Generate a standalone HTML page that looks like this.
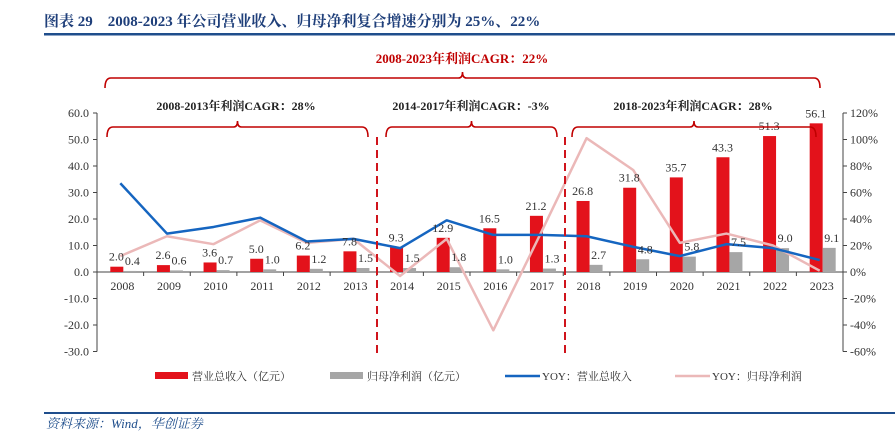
<!DOCTYPE html>
<html><head><meta charset="utf-8">
<style>
body{margin:0;background:#fff;width:895px;height:431px;overflow:hidden}
svg{display:block;font-family:"Liberation Serif","Noto Serif CJK SC",serif}
</style></head>
<body>
<svg id="chart" width="895" height="431">
<text x="44" y="26" font-size="15" font-weight="bold" fill="#1f3f7a">图表 29　2008-2023 年公司营业收入、归母净利复合增速分别为 25%、22%</text>
<rect x="44" y="33" width="851" height="2.5" fill="#1f4e8c"/>
<rect x="44" y="412" width="851" height="2" fill="#1f4e8c"/>
<text x="46" y="428" font-size="13" font-style="italic" fill="#1f4e8c">资料来源：Wind，华创证券</text>
<g id="plot"></g>
</svg>
<script>
const years=["2008","2009","2010","2011","2012","2013","2014","2015","2016","2017","2018","2019","2020","2021","2022","2023"];
const revenue=[2.0,2.6,3.6,5.0,6.2,7.8,9.3,12.9,16.5,21.2,26.8,31.8,35.7,43.3,51.3,56.1];
const profit=[0.4,0.6,0.7,1.0,1.2,1.5,1.5,1.8,1.0,1.3,2.7,4.8,5.8,7.5,9.0,9.1];
const revYoy=[67,29,34,41,23,25,18,39,28,28,27,19,12,21,18,9];
const profYoy=[12,27,21,39,22,25,-3,25,-44,28,101,77,22,29,20,1];
const leftTicks=[60,50,40,30,20,10,0,-10,-20,-30];
const rightTicks=[120,100,80,60,40,20,0,-20,-40,-60];

const NS="http://www.w3.org/2000/svg";
const g=document.getElementById('plot');
function el(t,a,txt){const e=document.createElementNS(NS,t);for(const k in a)e.setAttribute(k,a[k]);if(txt!=null)e.textContent=txt;g.appendChild(e);return e;}
const X0=97,X1=843,Y0=272,PX=26.5/10;
const bw=(X1-X0)/years.length;
const yL=v=>Y0-v*PX;
const yR=v=>Y0-v/20*26.5;
const cx=i=>X0+bw*(i+0.5);

let a=el('line',{x1:X0,y1:yL(60),x2:X0,y2:yL(-30),stroke:'#444','stroke-width':1});

a=el('line',{x1:X1,y1:yR(120),x2:X1,y2:yR(-60),stroke:'#444','stroke-width':1});

a=el('line',{x1:X0,y1:Y0,x2:X1,y2:Y0,stroke:'#444','stroke-width':1});

leftTicks.forEach(v=>{
 el('line',{x1:X0-4,y1:yL(v),x2:X0,y2:yL(v),stroke:'#444'});
 const t=el('text',{x:X0-8,y:yL(v)+4,'font-size':12,'text-anchor':'end',fill:'#333'},v.toFixed(1));
 
});
rightTicks.forEach(v=>{
 el('line',{x1:X1,y1:yR(v),x2:X1+4,y2:yR(v),stroke:'#444'});
 const t=el('text',{x:X1+7,y:yR(v)+4,'font-size':12,fill:'#333'},v+'%');
 
});
years.forEach((y,i)=>{
 el('line',{x1:X0+bw*i,y1:Y0,x2:X0+bw*i,y2:Y0+4,stroke:'#444'});
 const t=el('text',{x:cx(i)+2,y:Y0+18,'font-size':12,'text-anchor':'middle',fill:'#333'},y);
 
});
years.forEach((y,i)=>{
 const r=el('rect',{x:cx(i)-10,y:yL(revenue[i]),width:13,height:Y0-yL(revenue[i]),fill:'#e3121b'});
 
 const p=el('rect',{x:cx(i)+3,y:yL(profit[i]),width:13,height:Y0-yL(profit[i]),fill:'#a6a6a6'});
 
});
function line(vals,color,name){
 const pts=vals.map((v,i)=>cx(i)+','+yR(v)).join(' ');
 const l=el('polyline',{points:pts,fill:'none',stroke:color,'stroke-width':2.5,'stroke-linejoin':'round'});
 
}
line(profYoy,'#ebb8b8','profit-yoy-line');
line(revYoy,'#1565c0','revenue-yoy-line');
years.forEach((y,i)=>{
 const t=el('text',{x:cx(i)-4,y:yL(revenue[i])-6,'font-size':12,'text-anchor':'middle',fill:'#333'},revenue[i].toFixed(1));
 
 const u=el('text',{x:cx(i)+12,y:yL(profit[i])-6,'font-size':12,'text-anchor':'middle',fill:'#333'},profit[i].toFixed(1));
 
});
[377,565].forEach(x=>{
 const d=el('line',{x1:x,y1:137,x2:x,y2:356,stroke:'#d0141c','stroke-width':2,'stroke-dasharray':'8,5'});
 
});
function bracket(x1,x2,y,h,name){
 const m=(x1+x2)/2;
 const d=`M${x1},${y+h} Q${x1},${y} ${x1+6},${y} L${m-4},${y} Q${m},${y} ${m},${y-6} Q${m},${y} ${m+4},${y} L${x2-6},${y} Q${x2},${y} ${x2},${y+h}`;
 const p=el('path',{d:d,fill:'none',stroke:'#c00000','stroke-width':1.6});
 
}
bracket(105,820,78,10,'overall-bracket');
bracket(107,368,127,10,'bracket-2008-2013');
bracket(386,557,127,10,'bracket-2014-2017');
bracket(572,816,127,10,'bracket-2018-2023');
let t=el('text',{x:462,y:63,'font-size':13,'font-weight':'bold','text-anchor':'middle',fill:'#c00000'},'2008-2023年利润CAGR：22%');

[[236,'2008-2013年利润CAGR：28%','cagr-2008-2013'],[471,'2014-2017年利润CAGR：-3%','cagr-2014-2017'],[693,'2018-2023年利润CAGR：28%','cagr-2018-2023']].forEach(c=>{
 const q=el('text',{x:c[0],y:110,'font-size':12,'font-weight':'bold','text-anchor':'middle',fill:'#222'},c[1]);
 
});
const leg=[[155,'rect','#e3121b','营业总收入（亿元）'],[330,'rect','#a6a6a6','归母净利润（亿元）'],[505,'line','#1565c0','YOY：营业总收入'],[675,'line','#ebb8b8','YOY：归母净利润']];
leg.forEach(l=>{
 let s;
 if(l[1]=='rect')s=el('rect',{x:l[0],y:372,width:33,height:7,fill:l[2]});
 else s=el('line',{x1:l[0],y1:376,x2:l[0]+35,y2:376,stroke:l[2],'stroke-width':2.5});
 
 const tx=el('text',{x:l[0]+37,y:380,'font-size':11,fill:'#333'},l[3]);
 
});
</script>
</body></html>
